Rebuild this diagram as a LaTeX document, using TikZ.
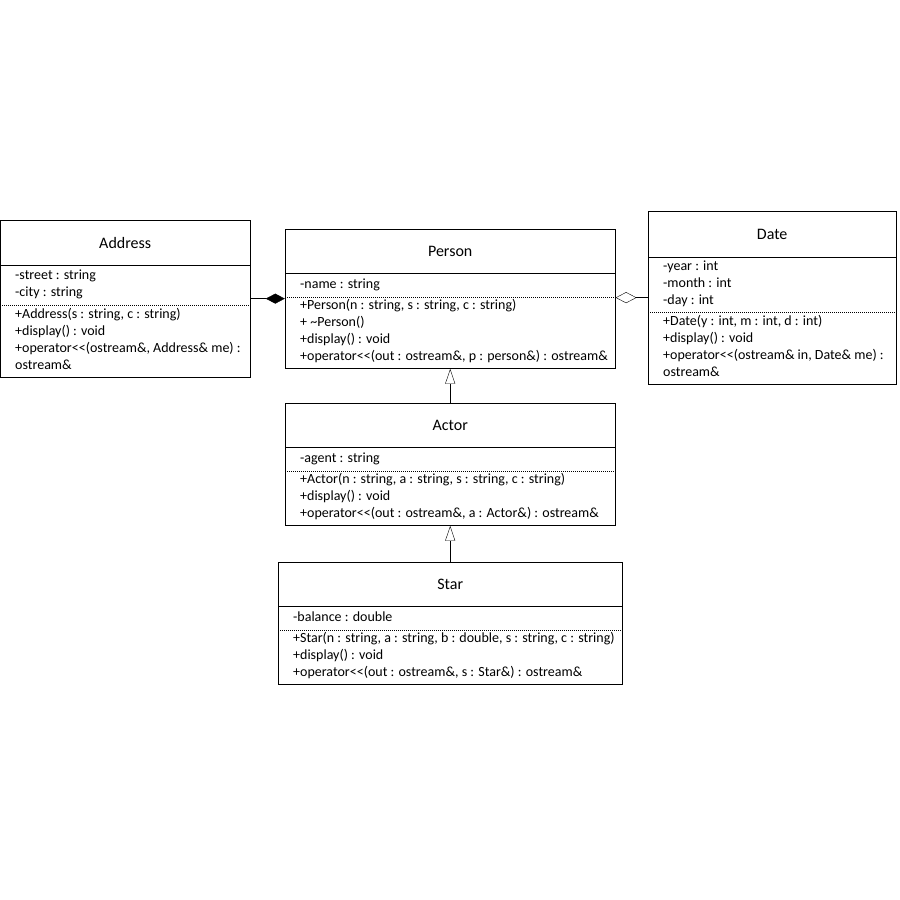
\documentclass[tikz,border=0pt]{standalone}
\usepackage{fontspec}
\setmainfont{Carlito}
\usetikzlibrary{arrows.meta,positioning,fit}

\newcommand{\shl}{<\kern0pt<}

\begin{document}
\begin{tikzpicture}[
    x=1pt, y=-1pt,
    every node/.style={font=\fontsize{14}{17}\selectfont},
    header/.style={
        draw,
        anchor=north west,
        minimum height=44,
        inner sep=0pt,
        font=\fontsize{16}{19}\selectfont
    },
    members/.style={
        align=left,
        inner xsep=4pt,
        inner ysep=2.5pt,
        execute at begin node=\strut,
        execute at end node=\strut
    },
    attrs/.style={members, inner ysep=3pt},
    classbox/.style={draw, inner sep=0pt, fit=#1},
    sep/.style={dash pattern=on 1pt off 1pt, shorten <=2pt, shorten >=2pt},
    inherit/.style={-{Triangle[open, length=15pt, width=10pt]}},
    compose/.style={-{Diamond[length=19pt, width=10pt]}},
    aggregate/.style={-{Diamond[open, length=21pt, width=11pt]}}
]
\useasboundingbox (0,0) rectangle (900,900);

% Address
\node[header, minimum width=250, minimum height=45] (address) at (0,220) {Address};
\node[attrs, inner ysep=4pt, below right=0pt and 11pt of address.south west] (address-attr)
    {-street : string\\-city : string};
\node[members, below right=0pt and 0pt of address-attr.south west] (address-ops)
    {+Address(s : string, c : string)\\+display() : void\\+operator\shl(ostream\&, Address\& me) :\\ostream\&};
\node[classbox=(address)(address-ops)] (address-box) {};
\draw[sep] (address-attr.south -| address.west) -- (address-attr.south -| address.east);

% Person
\node[header, minimum width=330] (person) at (285,229) {Person};
\node[attrs, below right=0pt and 11pt of person.south west] (person-attr)
    {-name : string};
\node[members, below right=0pt and 0pt of person-attr.south west] (person-ops)
    {+Person(n : string, s : string, c : string)\\+ \textasciitilde Person()\\+display() : void\\+operator\shl(out : ostream\&, p : person\&) : ostream\&};
\node[classbox=(person)(person-ops)] (person-box) {};
\draw[sep] (person-attr.south -| person.west) -- (person-attr.south -| person.east);

% Date
\node[header, minimum width=248, minimum height=46] (date) at (648,211) {Date};
\node[attrs, below right=0pt and 11pt of date.south west] (date-attr)
    {-year : int\\-month : int\\-day : int};
\node[members, below right=0pt and 0pt of date-attr.south west] (date-ops)
    {+Date(y : int, m : int, d : int)\\+display() : void\\+operator\shl(ostream\& in, Date\& me) :\\ostream\&};
\node[classbox=(date)(date-ops)] (date-box) {};
\draw[sep] (date-attr.south -| date.west) -- (date-attr.south -| date.east);

% Actor
\node[header, minimum width=330] (actor) at (285,403) {Actor};
\node[attrs, below right=0pt and 11pt of actor.south west] (actor-attr)
    {-agent : string};
\node[members, below right=0pt and 0pt of actor-attr.south west] (actor-ops)
    {+Actor(n : string, a : string, s : string, c : string)\\+display() : void\\+operator\shl(out : ostream\&, a : Actor\&) : ostream\&};
\node[classbox=(actor)(actor-ops)] (actor-box) {};
\draw[sep] (actor-attr.south -| actor.west) -- (actor-attr.south -| actor.east);

% Star
\node[header, minimum width=344] (star) at (278,562) {Star};
\node[attrs, below right=0pt and 11pt of star.south west] (star-attr)
    {-balance : double};
\node[members, below right=0pt and 0pt of star-attr.south west] (star-ops)
    {+Star(n : string, a : string, b : double, s : string, c : string)\\+display() : void\\+operator\shl(out : ostream\&, s : Star\&) : ostream\&};
\node[classbox=(star)(star-ops)] (star-box) {};
\draw[sep] (star-attr.south -| star.west) -- (star-attr.south -| star.east);

% Relations
\draw[compose] (address-box.east) -- (address-box.east -| person-box.west);
\draw[aggregate] (date-box.west) -- (date-box.west -| person-box.east);
\draw[inherit] (actor-box.north) -- (person-box.south);
\draw[inherit] (star-box.north) -- (actor-box.south);

\end{tikzpicture}
\end{document}
